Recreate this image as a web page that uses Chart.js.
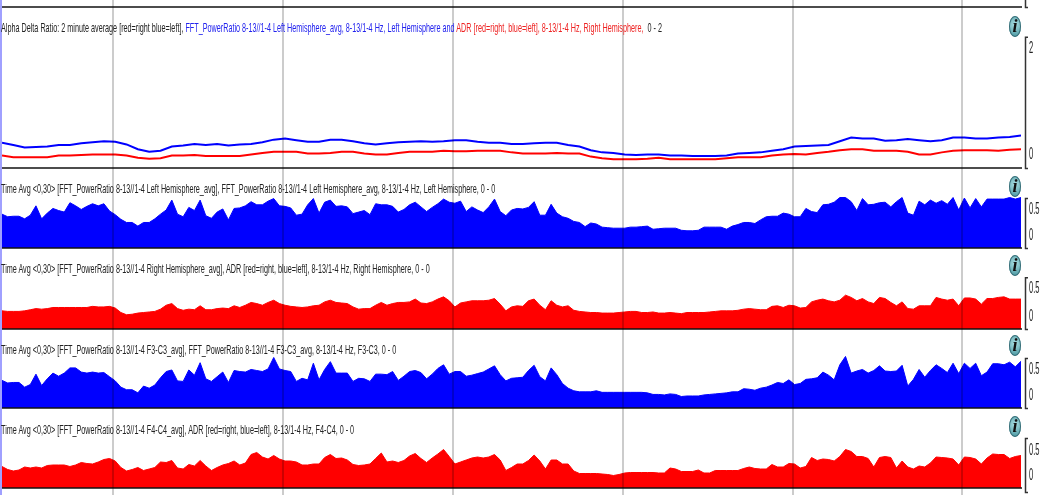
<!DOCTYPE html>
<html>
<head>
<meta charset="utf-8">
<title>Alpha Delta Ratio</title>
<script src="https://cdn.jsdelivr.net/npm/chart.js@4"></script>
<style>
  html, body { margin: 0; padding: 0; background: #fff; overflow: hidden; }
  #wrap { position: relative; width: 1050px; height: 495px; }
  canvas { position: absolute; left: 0; top: 0; }
  .title {
    position: absolute; left: 1px; white-space: pre; color: #222;
    font: 13px "Liberation Sans", Arial, sans-serif; line-height: 14px;
    transform: scaleX(0.556); transform-origin: left center;
  }
  .info {
    position: absolute; left: 1009px; width: 12px; height: 21px; border-radius: 50%;
    background: radial-gradient(circle at 50% 40%, #a8dde0, #3f8f9a);
    box-shadow: inset 0 0 0 1px #3a6f78; text-align: center; color: #111;
    font: italic bold 18px/21px "Liberation Serif", serif;
  }
</style>
</head>
<body>
<div id="wrap"><canvas id="adrChart" width="1050" height="495"></canvas></div>
<script>
// two minute averages, 6 hours of recording
const minutes = Array.from({ length: 181 }, (_, i) => i * 2);
const trendMinutes = Array.from({ length: 91 }, (_, i) => i * 4);
const hourTicks = [39.3, 99.3, 159.3, 219.3, 279.3, 339.3];

const adrLeft = [.23,.19,.14,.15,.16,.19,.19,.22,.24,.26,.25,.20,.11,.06,.08,.16,.18,.21,.19,.21,.18,.20,.21,.24,.29,.31,.28,.25,.25,.29,.29,.26,.22,.20,.22,.24,.25,.26,.25,.26,.28,.28,.25,.23,.23,.21,.21,
  .22,.23,.23,.19,.16,.09,.05,.04,.01,.00,.01,.01,-.01,-.01,-.02,-.02,-.02,-.01,.03,.04,.05,.08,.11,.16,.17,.18,.19,.26,.33,.31,.31,.27,.28,.30,.28,.26,.28,.33,.33,.31,.31,.33,.34,.37];
const adrRight = [-.01,-.04,-.04,-.04,-.04,-.01,-.01,.00,.01,.01,.01,-.01,-.05,-.07,-.06,-.01,-.01,.00,-.02,-.02,-.02,-.02,.01,.04,.06,.06,.06,.03,.03,.04,.06,.06,.03,.01,.01,.04,.06,.06,.06,.08,.07,.07,.08,.08,.08,.05,.03,
  .03,.03,.04,.03,.03,-.03,-.06,-.08,-.08,-.08,-.07,-.05,-.08,-.08,-.08,-.08,-.08,-.06,-.04,-.04,-.04,-.01,.01,.02,.01,.04,.06,.09,.11,.11,.08,.08,.08,.06,.01,.01,.05,.08,.09,.09,.09,.08,.10,.11];

const leftHemisphere = [.42,.37,.38,.38,.33,.40,.58,.33,.44,.53,.49,.46,.64,.58,.51,.57,.62,.58,.62,.48,.41,.32,.26,.26,.19,.26,.26,.33,.42,.50,.69,.42,.37,.55,.49,.69,.39,.34,.46,.52,.31,.53,.54,.58,.66,.60,.60,.67,.72,.58,.57,.54,.40,.42,.60,.72,.44,.65,.69,.57,.58,.56,.43,.46,.49,.41,.62,.60,.60,.57,.46,.51,.60,.65,.56,.47,.55,.62,.71,.65,.63,.67,.47,.56,.50,.45,.56,.71,.47,.39,.50,.53,.52,
  .55,.66,.40,.40,.61,.44,.37,.34,.28,.26,.18,.25,.23,.17,.16,.15,.15,.15,.17,.17,.18,.19,.13,.14,.15,.15,.15,.11,.10,.10,.11,.17,.17,.17,.17,.13,.19,.22,.26,.26,.24,.31,.37,.38,.38,.44,.42,.37,.37,.53,.47,.45,.60,.61,.65,.74,.74,.66,.49,.72,.60,.61,.64,.65,.56,.66,.74,.44,.40,.67,.60,.69,.63,.68,.61,.74,.50,.73,.54,.72,.56,.71,.71,.71,.71,.74,.71,.74];

const rightHemisphere = [.11,.10,.10,.10,.11,.13,.15,.14,.15,.17,.17,.17,.17,.17,.17,.17,.19,.18,.18,.19,.16,.08,.04,.05,.07,.08,.09,.10,.14,.21,.24,.15,.12,.14,.13,.20,.13,.13,.15,.16,.15,.20,.17,.21,.26,.24,.21,.26,.30,.24,.21,.19,.18,.17,.18,.20,.21,.27,.30,.26,.25,.24,.18,.14,.15,.15,.21,.26,.21,.24,.26,.26,.27,.32,.25,.24,.27,.32,.36,.29,.18,.25,.27,.29,.29,.29,.30,.33,.23,.11,.18,.20,.19,
  .29,.32,.21,.13,.29,.21,.18,.20,.12,.10,.09,.08,.08,.07,.07,.07,.08,.09,.10,.10,.08,.08,.09,.07,.07,.08,.07,.06,.08,.08,.08,.08,.09,.10,.11,.11,.11,.12,.14,.15,.14,.13,.13,.19,.20,.17,.21,.20,.16,.17,.27,.30,.32,.29,.27,.30,.39,.35,.29,.33,.27,.24,.35,.33,.26,.20,.27,.15,.14,.20,.20,.20,.35,.32,.30,.32,.20,.34,.34,.32,.23,.33,.33,.35,.36,.32,.32,.32];

const f3c3 = [.30,.25,.26,.26,.17,.22,.42,.20,.33,.44,.38,.44,.54,.54,.46,.44,.46,.44,.45,.37,.29,.17,.12,.12,.06,.19,.15,.21,.35,.47,.50,.29,.28,.50,.40,.64,.33,.28,.37,.46,.26,.49,.47,.46,.51,.49,.47,.52,.74,.52,.49,.47,.28,.34,.31,.63,.31,.51,.66,.44,.44,.44,.28,.34,.33,.28,.42,.42,.41,.47,.30,.38,.47,.49,.45,.33,.42,.53,.60,.42,.47,.47,.38,.40,.43,.46,.52,.58,.41,.29,.34,.35,.36,
  .49,.59,.37,.29,.54,.41,.24,.15,.10,.08,.08,.08,.10,.07,.07,.07,.07,.07,.07,.07,.07,.06,.03,.03,.02,.04,.03,-.01,.00,.00,.00,.02,.03,.04,.05,.06,.08,.08,.14,.13,.11,.15,.17,.21,.26,.24,.31,.22,.24,.32,.33,.35,.46,.40,.31,.60,.76,.44,.48,.51,.44,.49,.58,.48,.47,.48,.59,.19,.32,.51,.36,.49,.60,.53,.45,.63,.43,.63,.53,.63,.39,.46,.62,.62,.60,.65,.56,.67];

const f4c4 = [.19,.13,.10,.12,.18,.16,.18,.16,.21,.22,.22,.22,.19,.22,.27,.25,.24,.28,.33,.35,.30,.17,.10,.13,.17,.11,.14,.17,.28,.27,.31,.16,.14,.23,.20,.31,.20,.11,.17,.22,.25,.30,.22,.26,.43,.47,.38,.34,.41,.34,.30,.30,.28,.22,.22,.24,.24,.37,.43,.35,.36,.32,.23,.21,.22,.24,.35,.46,.28,.30,.27,.31,.40,.45,.35,.27,.36,.44,.53,.39,.24,.28,.32,.36,.38,.36,.38,.43,.32,.11,.17,.24,.24,
  .31,.42,.30,.14,.32,.32,.24,.24,.10,.05,.05,.05,.05,.04,.03,.01,.03,.06,.07,.07,.07,.07,.07,.06,.06,.16,.14,.09,.09,.09,.12,.06,.06,.11,.11,.11,.11,.11,.15,.18,.15,.14,.14,.23,.18,.18,.25,.24,.16,.19,.37,.31,.34,.33,.30,.39,.53,.49,.39,.39,.35,.18,.37,.39,.37,.16,.30,.18,.14,.20,.18,.26,.38,.37,.36,.34,.22,.38,.37,.34,.24,.36,.44,.43,.43,.35,.39,.41];

// y range of each panel, chosen so 0 sits at the axis label
const panelMins = [-.245, -.231, -.214, -.231, -.38];
const panelMaxs = [2.925, 1.308, 1.232, 1.288, 1.36];
const panelWeights = [168, 80, 81, 79, 87];
const panelBaselines = [-.245, -.231, -.214, -.231, -.24];
const panelTicks = [[0, 2], [0, .5], [0, .5], [0, .5], [0, .5]];
const bracketTops = [2.23, .73, .71, .73, .76];

const BLUE = "#0000ff";
const RED = "#ff0000";

const panelTitles = [
  [["Alpha Delta Ratio: 2 minute average [red=right blue=left], ", "#222"],
   ["FFT_PowerRatio 8-13//1-4 Left Hemisphere_avg, 8-13/1-4 Hz, Left Hemisphere and ", "#2222ee"],
   ["ADR [red=right, blue=left], 8-13/1-4 Hz, Right Hemisphere, ", "#ee2222"],
   [" 0 - 2", "#222"]],
  [["Time Avg <0,30> [FFT_PowerRatio 8-13//1-4 Left Hemisphere_avg], FFT_PowerRatio 8-13//1-4 Left Hemisphere_avg, 8-13/1-4 Hz, Left Hemisphere, 0 - 0", "#222"]],
  [["Time Avg <0,30> [FFT_PowerRatio 8-13//1-4 Right Hemisphere_avg], ADR [red=right, blue=left], 8-13/1-4 Hz, Right Hemisphere, 0 - 0", "#222"]],
  [["Time Avg <0,30> [FFT_PowerRatio 8-13//1-4 F3-C3_avg], FFT_PowerRatio 8-13//1-4 F3-C3_avg, 8-13/1-4 Hz, F3-C3, 0 - 0", "#222"]],
  [["Time Avg <0,30> [FFT_PowerRatio 8-13//1-4 F4-C4_avg], ADR [red=right, blue=left], 8-13/1-4 Hz, F4-C4, 0 - 0", "#222"]]
];
const titleTops = [21, 182, 262, 343, 423];
const infoTops = [16, 176, 255, 335, 416];

// Titles and info badges sit on top of the canvas
const wrap = document.getElementById("wrap");
panelTitles.forEach((parts, i) => {
  const div = document.createElement("div");
  div.className = "title";
  div.style.top = titleTops[i] + "px";
  parts.forEach(part => {
    const span = document.createElement("span");
    span.textContent = part[0];
    span.style.color = part[1];
    div.appendChild(span);
  });
  wrap.appendChild(div);

  const info = document.createElement("div");
  info.className = "info";
  info.style.top = infoTops[i] + "px";
  info.textContent = "i";
  wrap.appendChild(info);
});

function points(xs, values) {
  return values.map((y, i) => ({ x: xs[i], y: y }));
}

function lineDataset(values, color, axis) {
  return { data: points(trendMinutes, values), yAxisID: axis, borderColor: color, borderWidth: 2, fill: false };
}

function areaDataset(values, color, axis, baseline) {
  return {
    data: points(minutes, values), yAxisID: axis, borderColor: color, backgroundColor: color,
    borderWidth: 1, fill: { value: baseline }
  };
}

function panelAxis(i) {
  return {
    type: "linear",
    position: "right",
    stack: "panels",
    stackWeight: panelWeights[i],
    weight: i,
    min: panelMins[i],
    max: panelMaxs[i],
    border: { display: false },
    grid: { display: false, drawTicks: false },
    ticks: { display: false, autoSkip: false },
    afterBuildTicks: axis => { axis.ticks = panelTicks[i].map(v => ({ value: v })); },
    afterFit: axis => {
      axis.width = 29;
      axis.paddingTop = 0;
      axis.paddingBottom = 0;
    }
  };
}

// Panel rules, value brackets, squeezed tick labels and the strip down the left edge
const panelFrames = {
  id: "panelFrames",
  afterDatasetsDraw(chart) {
    const ctx = chart.ctx;
    const area = chart.chartArea;
    ctx.save();
    ctx.fillStyle = "#a0a0ff";
    ctx.fillRect(0, 0, 2, chart.height);
    ctx.strokeStyle = "#111";
    ctx.lineWidth = 1.5;
    ctx.beginPath();
    ctx.moveTo(area.left, 7);
    ctx.lineTo(area.right + 1, 7);
    ctx.stroke();
    panelWeights.forEach((_, i) => {
      const scale = chart.scales["y" + i];
      const bottom = scale.getPixelForValue(panelBaselines[i]);
      const top = scale.getPixelForValue(bracketTops[i]);
      const end = i === 4 ? bottom + 4 : bottom;
      ctx.lineWidth = 1.5;
      ctx.strokeStyle = "#111";
      ctx.beginPath();
      ctx.moveTo(area.left, bottom);
      ctx.lineTo(area.right + 1, bottom);
      ctx.stroke();
      ctx.strokeStyle = "#333";
      ctx.beginPath();
      ctx.moveTo(area.right + 7, top + 0.5);
      ctx.lineTo(area.right + 4.5, top + 0.5);
      ctx.lineTo(area.right + 4.5, end + 0.5);
      ctx.lineTo(area.right + 7, end + 0.5);
      ctx.stroke();

      ctx.fillStyle = "#222";
      ctx.font = "16px 'Liberation Sans'";
      ctx.textBaseline = "middle";
      panelTicks[i].forEach(v => {
        ctx.save();
        ctx.translate(area.right + 8, scale.getPixelForValue(v));
        ctx.scale(0.47, 1);
        ctx.fillText(String(v), 0, 0);
        ctx.restore();
      });
    });
    ctx.beginPath();
    ctx.moveTo(area.right + 4.5, 0);
    ctx.lineTo(area.right + 4.5, 7.5);
    ctx.lineTo(area.right + 7, 7.5);
    ctx.stroke();
    ctx.restore();
  }
};

const scales = {
  x: {
    type: "linear",
    min: 0,
    max: 360,
    border: { display: false },
    grid: { color: "rgba(0,0,0,0.2)", lineWidth: 2, drawTicks: false, z: 1 },
    ticks: { display: false },
    afterBuildTicks: axis => { axis.ticks = hourTicks.map(v => ({ value: v })); }
  }
};
panelWeights.forEach((_, i) => { scales["y" + i] = panelAxis(i); });

new Chart(document.getElementById("adrChart").getContext("2d"), {
  type: "line",
  data: {
    datasets: [
      lineDataset(adrLeft, BLUE, "y0"),
      lineDataset(adrRight, RED, "y0"),
      areaDataset(leftHemisphere, BLUE, "y1", panelBaselines[1]),
      areaDataset(rightHemisphere, RED, "y2", panelBaselines[2]),
      areaDataset(f3c3, BLUE, "y3", panelBaselines[3]),
      areaDataset(f4c4, RED, "y4", panelBaselines[4])
    ]
  },
  options: {
    responsive: false,
    animation: false,
    layout: { padding: { left: 2, right: 0, top: 0, bottom: 0 } },
    elements: { point: { radius: 0 }, line: { tension: 0 } },
    plugins: { legend: { display: false }, tooltip: { enabled: false } },
    scales: scales
  },
  plugins: [panelFrames]
});
</script>
</body>
</html>
